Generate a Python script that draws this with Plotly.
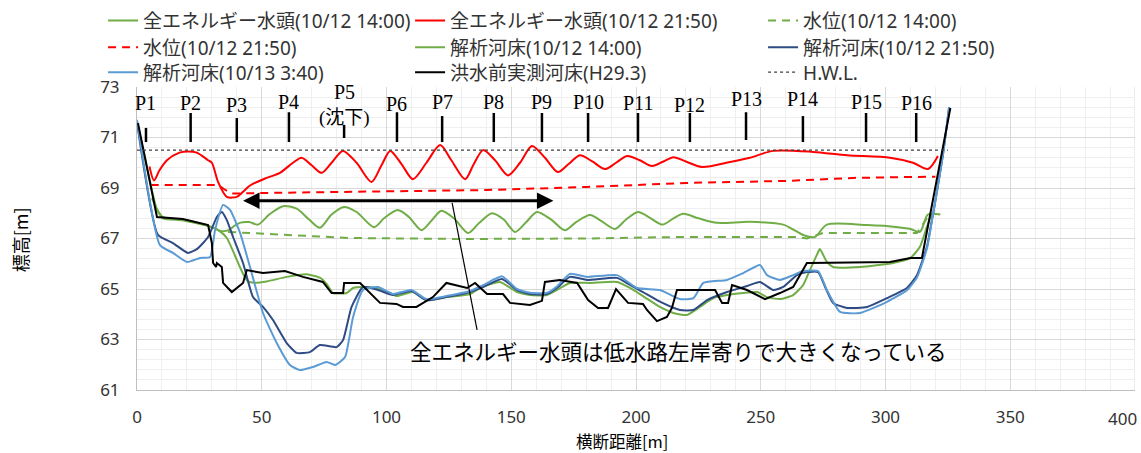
import plotly.graph_objects as go

# ---------------- data ----------------
e14_x = [6, 8.4, 10.4, 18, 24, 30, 33.5, 36.5, 39, 41.5, 45, 48.5, 53, 58.5, 64, 69, 73.3, 78, 83, 88, 95, 99,
         104.5, 109, 114, 118, 122, 127, 132.7, 137, 142.3, 147, 151.5, 156, 160.3, 166, 171.5, 176, 181.6, 186,
         191.6, 196, 200.8, 205.6, 210.6, 215, 219, 225, 232.5, 245.7, 259, 264, 267, 271.7, 276.5, 292.6, 305,
         310, 313.8, 317, 322]
e14_y = [68.6, 68.1, 67.85, 67.75, 67.62, 67.45, 67.3, 67.32, 67.5, 67.63, 67.65, 67.55, 67.95, 68.28, 68.18,
         67.75, 67.43, 67.95, 68.25, 68.05, 67.45, 67.8, 68.13, 67.85, 67.33, 67.7, 68.1, 67.8, 67.22, 67.6, 68.0,
         67.75, 67.26, 67.65, 68.05, 67.75, 67.33, 67.65, 67.93, 67.7, 67.38, 67.75, 68.05, 67.82, 67.55, 67.8,
         67.98, 67.8, 67.62, 67.66, 67.55, 67.3, 67.14, 67.06, 67.55, 67.53, 67.45, 67.38, 67.26, 67.95, 67.95]

e2150_x = [5, 6.8, 9, 12, 17, 20.5, 24, 28.5, 30, 32.5, 36, 40, 42.5, 45.3, 52, 57.3, 62.5, 66, 70, 74, 78,
           82.5, 88, 94, 98, 101.5, 106, 110.6, 116, 121.5, 126, 131.5, 135, 138.7, 143.5, 148.7, 153.5, 158.3,
           163.5, 168.7, 173, 177.5, 182.5, 187.6, 192, 196.4, 201.5, 206.4, 211, 215, 220, 226.4, 237.7,
           245.7, 255, 271, 284.6, 301.8, 311, 317, 321]
e2150_y = [69.85, 69.3, 69.7, 70.1, 70.4, 70.45, 70.4, 70.1, 70.0, 69.24, 68.65, 68.65, 68.85, 69.1, 69.4, 69.6,
           70.0, 70.2, 69.9, 69.6, 70.0, 70.47, 70.0, 69.24, 69.9, 70.47, 69.95, 69.35, 70.0, 70.7, 70.1, 69.35,
           69.95, 70.5, 70.1, 69.5, 70.0, 70.66, 70.2, 69.63, 69.95, 70.3, 70.05, 69.75, 70.0, 70.27, 70.1, 69.87,
           70.05, 70.22, 70.05, 69.83, 70.03, 70.2, 70.47, 70.43, 70.3, 70.2, 70.0, 69.75, 70.27]

w14_x = [36.5, 50, 85, 130, 180, 217.6, 250, 264.5, 268.5, 275, 312.6, 318]
w14_y = [67.26, 67.2, 67.02, 66.98, 67.0, 67.06, 67.07, 67.06, 67.0, 67.22, 67.22, 68.0]

w2150_x = [5.5, 32.5, 35, 38, 49, 100, 140, 180, 220, 260, 287, 320]
w2150_y = [69.12, 69.12, 68.95, 68.78, 68.8, 68.86, 68.92, 69.04, 69.2, 69.28, 69.4, 69.45]

b14_x = [0, 3, 6, 8, 10.4, 18, 24, 30, 33, 36, 38.5, 40, 42.5, 44.5, 47, 52, 60, 68, 73.3, 76, 78.6, 84, 86.6,
         92, 96, 101.4, 104, 110.6, 116, 124, 133.5, 137.5, 145.5, 152.3, 157.5, 164.3, 168.3, 173.5, 181.6,
         192.4, 197.6, 202.8, 209.6, 215, 220.4, 225.6, 231, 236.5, 243, 248.5, 252.5, 257.7, 263, 267, 269.7,
         272.5, 273.7, 276.5, 279, 289.8, 303, 310, 313.8, 316.6, 318.6]
b14_y = [71.6, 70.3, 68.9, 68.13, 67.8, 67.72, 67.6, 67.45, 67.3, 67.02, 66.5, 66.15, 65.6, 65.3, 65.25, 65.3,
         65.48, 65.58, 65.45, 65.2, 64.84, 64.84, 65.04, 65.08, 65.04, 64.84, 64.72, 64.88, 64.56, 64.68, 64.8,
         65.04, 65.28, 64.88, 64.76, 64.76, 64.96, 65.24, 65.24, 65.28, 65.04, 64.72, 64.29, 64.05, 63.97, 64.29,
         64.64, 64.76, 64.84, 64.88, 64.68, 64.6, 64.76, 65.16, 65.75, 66.35, 66.58, 66.07, 65.87, 65.87, 66.03,
         66.23, 66.67, 67.46, 68.0]

b2150_x = [0, 8.4, 14.4, 20.4, 24, 28.5, 32, 34, 36, 38.5, 42.5, 46.5, 50.5, 54.5, 60, 64, 69.3, 73.3, 80, 82.6,
           86, 90.6, 96.6, 102.6, 110, 116, 124, 133.5, 138.7, 146.3, 152.3, 157.5, 164.3, 168.3, 173.5, 180.4,
           192.4, 197.6, 202.8, 209.6, 217.6, 223, 228.5, 236.5, 244.5, 249.7, 255, 259, 264.5, 268.5, 273,
           275.8, 279, 284.6, 292.6, 300.6, 308.6, 312.6, 316.6, 318.6, 320, 323, 325.5]
b2150_y = [71.6, 67.14, 66.82, 66.43, 66.58, 67.06, 67.85, 68.05, 67.73, 67.06, 66.03, 64.68, 64.29, 63.77, 62.86,
           62.47, 62.5, 62.78, 62.7, 62.98, 64.29, 65.08, 64.96, 64.76, 64.92, 64.56, 64.68, 64.88, 65.08, 65.4,
           64.96, 64.8, 64.8, 65.04, 65.48, 65.36, 65.44, 65.16, 64.88, 64.5, 64.17, 64.17, 64.56, 64.88, 65.12,
           65.28, 64.96, 65.08, 65.55, 65.67, 65.67, 65.08, 64.45, 64.25, 64.29, 64.64, 65.04, 65.55, 66.67, 67.73,
           68.5, 70.3, 72.2]

b1013_x = [0, 9.2, 14.4, 20, 25.3, 29.3, 31.3, 34.5, 37.3, 41.3, 45.3, 50.5, 56, 61.3, 65.3, 70.5, 76, 79.4,
           83.4, 86.6, 90.6, 96.6, 102.6, 110, 116, 124, 133.5, 138.7, 146.3, 152.3, 157.5, 164.3, 168.3, 173.5,
           180.4, 192.4, 200.4, 209.6, 217.6, 223, 227, 236.5, 243, 249.7, 252.5, 257.7, 263, 267, 273, 276.5,
           281.8, 289.8, 300.6, 308.6, 312.6, 316.6, 318.6, 320, 323, 325.5]
b1013_y = [71.7, 66.74, 66.43, 66.07, 66.23, 66.27, 67.34, 68.33, 68.13, 67.22, 65.87, 64.05, 62.86, 61.99, 61.79,
           61.91, 62.11, 61.99, 62.31, 63.89, 64.96, 65.08, 64.8, 64.96, 64.6, 64.72, 64.92, 65.15, 65.5, 65.0,
           64.85, 64.85, 65.1, 65.6, 65.48, 65.55, 65.04, 64.96, 64.6, 64.64, 65.24, 65.36, 65.63, 65.95, 65.55,
           65.36, 65.55, 65.71, 65.71, 64.96, 64.09, 64.05, 64.49, 64.95, 65.45, 66.6, 67.7, 68.5, 70.3, 72.2]

h29_x = [0.4, 8, 18.4, 24, 28.5, 30, 30.5, 31.7, 32, 34, 34.5, 38, 42.5, 44, 50.5, 59.3, 66.5, 74.5, 78, 82.6,
         83, 89.4, 97.4, 104, 106.6, 112, 118.6, 124, 132.3, 135.5, 140.3, 146.7, 149.5, 157.5, 162.3, 163.5,
         169.5, 176.4, 180.8, 184.8, 188.8, 192, 196.8, 202.8, 204.4, 208.4, 212.4, 214.4, 216.4, 231.7, 234.5,
         236.9, 238.5, 244.5, 251.7, 257.7, 263, 268.5, 269.7, 301.8, 310, 314.6, 319.8, 323, 326]
h29_y = [71.57, 67.85, 67.77, 67.65, 67.53, 66.82, 66.03, 65.87, 66.03, 65.87, 65.24, 64.88, 65.24, 65.75, 65.63,
         65.71, 65.48, 65.28, 64.84, 64.84, 65.24, 65.24, 64.45, 64.41, 64.29, 64.29, 64.68, 65.24, 65.04, 65.24,
         64.8, 64.8, 64.45, 64.37, 64.53, 65.28, 65.36, 65.24, 64.56, 64.25, 64.25, 65.0, 64.45, 64.41, 64.17,
         63.73, 63.89, 64.25, 64.96, 64.96, 64.45, 64.45, 65.16, 64.96, 64.6, 64.84, 65.08, 66.03, 66.03, 66.07,
         66.23, 66.23, 68.92, 70.6, 72.17]

hwl_x = [0, 325]
hwl_y = [70.5, 70.5]

x_ticks = [0, 50, 100, 150, 200, 250, 300, 350, 400]
y_ticks = [61, 63, 65, 67, 69, 71, 73]

p_names = ["P1", "P2", "P3", "P4", "P5", "P6", "P7", "P8", "P9", "P10", "P11", "P12", "P13", "P14", "P15", "P16"]
p_x = [3.6, 21.5, 40, 60.9, 83, 104.2, 122.3, 143, 162.3, 180.8, 200.8, 221.6, 244.1, 266.9, 292.2, 312.3]

series_names = ["全エネルギー水頭(10/12 14:00)", "全エネルギー水頭(10/12 21:50)", "水位(10/12 14:00)",
                "水位(10/12 21:50)", "解析河床(10/12 14:00)", "解析河床(10/12 21:50)",
                "解析河床(10/13 3:40)", "洪水前実測河床(H29.3)", "H.W.L."]

note_text = "全エネルギー水頭は低水路左岸寄りで大きくなっている"

# ---------------- styling / positions ----------------
p_label_y = [72.37, 72.37, 72.29, 72.41, 72.8, 72.33, 72.41, 72.41, 72.41, 72.41, 72.37, 72.29, 72.52, 72.52,
             72.41, 72.37]
p_tick_top = [71.38, 71.97, 71.77, 72.0, 71.5, 72.0, 71.85, 71.97, 71.97, 71.97, 71.97, 71.97, 72.0, 71.85,
              71.97, 71.97]
p_tick_bot = [70.82] * 4 + [70.98] + [70.82] * 7 + [70.9] + [70.82] * 3

GREEN = "#70AD47"
RED = "#FF0000"
DBLUE = "#2F4B84"
LBLUE = "#5B9BD5"

# legend layout: three rows (one legend per row), per-column widths
legend_ids = ["legend", "legend", "legend", "legend2", "legend2", "legend2", "legend3", "legend3", "legend3"]
col_widths = [262, 308, 250] * 3

fig = go.Figure()
specs = [
    (e14_x, e14_y, dict(color=GREEN, width=2, shape="spline", smoothing=0.8)),
    (e2150_x, e2150_y, dict(color=RED, width=2, shape="spline", smoothing=0.8)),
    (w14_x, w14_y, dict(color=GREEN, width=2, dash="8px,6px")),
    (w2150_x, w2150_y, dict(color=RED, width=2, dash="8px,6px")),
    (b14_x, b14_y, dict(color=GREEN, width=2, shape="spline", smoothing=0.5)),
    (b2150_x, b2150_y, dict(color=DBLUE, width=2, shape="spline", smoothing=0.5)),
    (b1013_x, b1013_y, dict(color=LBLUE, width=2, shape="spline", smoothing=0.5)),
    (h29_x, h29_y, dict(color="#000000", width=2)),
    (hwl_x, hwl_y, dict(color="#404040", width=1.2, dash="dot")),
]
for (xs, ys, ln), nm, lg, lw in zip(specs, series_names, legend_ids, col_widths):
    fig.add_trace(go.Scatter(x=xs, y=ys, mode="lines", name=nm, line=ln, legend=lg, legendwidth=lw))

PFONT = dict(family="Liberation Serif, Noto Sans CJK JP", size=20, color="black")
# P station markers
for nm, px, ly, tt, tb in zip(p_names, p_x, p_label_y, p_tick_top, p_tick_bot):
    fig.add_shape(type="line", x0=px, x1=px, y0=tb, y1=tt, xref="x", yref="y",
                  line=dict(color="black", width=2.5))
    fig.add_annotation(x=px, y=ly, text=nm, showarrow=False, xref="x", yref="y",
                       xanchor="center", yanchor="middle", font=PFONT)
fig.add_annotation(x=p_x[4], y=71.77, text="(沈下)", showarrow=False, xref="x", yref="y",
                   xanchor="center", yanchor="middle",
                   font=dict(family="Liberation Serif, Noto Sans CJK JP", size=19, color="black"))

# double arrow
fig.add_annotation(x=42.5, y=68.5, ax=167.5, ay=68.5, xref="x", yref="y", axref="x", ayref="y",
                   text="", showarrow=True, arrowside="end+start", arrowhead=2, startarrowhead=2,
                   arrowsize=1.1, startarrowsize=1.1, arrowwidth=3, arrowcolor="black")
# leader line and note
fig.add_shape(type="line", x0=126.3, y0=68.41, x1=136.3, y1=63.38, xref="x", yref="y",
              line=dict(color="black", width=1.2))
fig.add_annotation(x=216.8, y=62.58, text=note_text, showarrow=False, xref="x", yref="y",
                   xanchor="center", yanchor="middle",
                   font=dict(family="Noto Sans CJK JP", size=21.5, color="black"))

tickfont = dict(family="Noto Sans", size=17, color="#333333")

# axis titles
fig.add_annotation(x=-0.117, y=0.495, xref="paper", yref="paper", text="標高[m]", textangle=-90,
                   xanchor="center", yanchor="middle",
                   showarrow=False, font=dict(family="Noto Sans CJK JP", size=18, color="black"))
fig.add_annotation(x=0.486, y=-0.167, xref="paper", yref="paper", text="横断距離[m]",
                   xanchor="center", yanchor="middle",
                   showarrow=False, font=dict(family="Noto Sans CJK JP", size=16.5, color="black"))
# last x tick label kept inside the page edge
fig.add_annotation(x=1.004, y=-0.094, xref="paper", yref="paper", text=str(x_ticks[-1]),
                   xanchor="right", yanchor="middle", showarrow=False, font=tickfont)

LEGFONT = dict(family="Noto Sans, Noto Sans CJK JP", size=19, color="#333333")


def leg(ypaper):
    return dict(orientation="h", x=-0.034, xanchor="left", y=ypaper, yanchor="top",
                font=LEGFONT, bgcolor="rgba(0,0,0,0)", tracegroupgap=0)


fig.update_layout(
    template="none",
    width=1141, height=453,
    margin=dict(l=137, r=6, t=87, b=63, autoexpand=False),
    paper_bgcolor="white", plot_bgcolor="white",
    showlegend=True,
    legend=leg(1.282), legend2=leg(1.193), legend3=leg(1.111),
    xaxis=dict(range=[0, 400], tickvals=x_ticks[:-1], showgrid=True, gridcolor="#d9d9d9", gridwidth=1,
               minor=dict(dtick=10, tick0=0, showgrid=True, gridcolor="#efefef"),
               showline=True, linecolor="#bfbfbf", zeroline=False, tickfont=tickfont, ticks="",
               ticklabelstandoff=12, automargin=False),
    yaxis=dict(range=[61, 73], tickvals=y_ticks, showgrid=True, gridcolor="#d9d9d9", gridwidth=1,
               minor=dict(dtick=0.4, tick0=61, showgrid=True, gridcolor="#efefef"),
               showline=True, linecolor="#bfbfbf", zeroline=False, tickfont=tickfont, ticks="",
               ticklabelstandoff=13, automargin=False),
)
# gridline at x=400 (right edge)
fig.add_shape(type="line", x0=x_ticks[-1], x1=x_ticks[-1], y0=0, y1=1, xref="x", yref="paper",
              line=dict(color="#d9d9d9", width=1), layer="below")

fig.write_html("out.html", config={"displayModeBar": False},
               post_script="document.body.style.margin='0';document.body.style.overflow='hidden';")
